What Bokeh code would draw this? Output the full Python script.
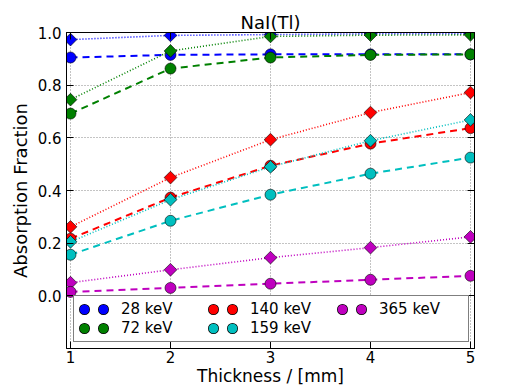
from math import pi
from bokeh.plotting import figure
from bokeh.models import (Range1d, FixedTicker, LinearAxis, Legend, LegendItem,
                          PrintfTickFormatter, CustomJSTickFormatter)
from bokeh.embed import file_html
from bokeh.resources import INLINE

thickness = [1, 2, 3, 4, 5]
energies = ["28 keV", "72 keV", "140 keV", "159 keV", "365 keV"]
colors = ["#0000ff", "#008000", "#ff0000", "#00bfbf", "#bf00bf"]

# dotted lines with diamond markers
frac_dotted_28 = [0.973, 0.989, 0.992, 0.995, 0.996]
frac_dotted_72 = [0.745, 0.930, 0.985, 0.990, 0.991]
frac_dotted_140 = [0.262, 0.449, 0.593, 0.696, 0.772]
frac_dotted_159 = [0.205, 0.365, 0.490, 0.589, 0.668]
frac_dotted_365 = [0.050, 0.099, 0.145, 0.183, 0.224]

# dashed lines with circle markers
frac_dashed_28 = [0.905, 0.915, 0.917, 0.917, 0.917]
frac_dashed_72 = [0.692, 0.863, 0.905, 0.915, 0.917]
frac_dashed_140 = [0.217, 0.373, 0.494, 0.578, 0.637]
frac_dashed_159 = [0.156, 0.285, 0.384, 0.464, 0.525]
frac_dashed_365 = [0.015, 0.030, 0.046, 0.061, 0.076]

dotted = [frac_dotted_28, frac_dotted_72, frac_dotted_140, frac_dotted_159, frac_dotted_365]
dashed = [frac_dashed_28, frac_dashed_72, frac_dashed_140, frac_dashed_159, frac_dashed_365]

y_ticks = [0.0, 0.2, 0.4, 0.6, 0.8, 1.0]
x_ticks = [1, 2, 3, 4, 5]

FONT = "DejaVu Sans"

p = figure(width=505, height=388, output_backend="svg", toolbar_location=None,
           x_range=Range1d(0.96, 5.04), y_range=Range1d(-0.2, 1.0),
           min_border_left=66, min_border_right=31, min_border_top=32,
           min_border_bottom=40)

p.title.text = "NaI(Tl)"
p.title.align = "center"
p.title.text_font = FONT
p.title.text_font_size = "18px"
p.title.text_font_style = "normal"
p.title.text_color = "black"
p.title.standoff = 0

p.outline_line_color = "black"
p.outline_line_width = 1
p.background_fill_color = "white"
p.border_fill_color = "white"

for ax in (p.xaxis[0], p.yaxis[0]):
    ax.major_label_text_font = FONT
    ax.major_label_text_font_size = "15px"
    ax.major_label_text_color = "black"
    ax.axis_label_text_font = FONT
    ax.axis_label_text_font_style = "normal"
    ax.axis_label_text_color = "black"
    ax.major_tick_in = 7
    ax.major_tick_out = 0
    ax.minor_tick_in = 0
    ax.minor_tick_out = 0
    ax.axis_line_color = "black"
    ax.major_tick_line_color = "black"

p.xaxis.axis_label_text_font_size = "17px"
p.yaxis.axis_label_text_font_size = "18px"
p.xaxis.ticker = FixedTicker(ticks=x_ticks)
p.yaxis.ticker = FixedTicker(ticks=y_ticks)
p.yaxis.formatter = PrintfTickFormatter(format="%.1f")
p.xaxis.axis_label = "Thickness / [mm]"
p.yaxis.axis_label = "Absorption Fraction"
p.xaxis.major_label_standoff = 2
p.xaxis.axis_label_standoff = 0
p.yaxis.major_label_standoff = 5
p.yaxis.axis_label_standoff = 4

blank = CustomJSTickFormatter(code="return ''")
for loc, ticks in (("right", y_ticks), ("above", x_ticks)):
    ax = LinearAxis(ticker=FixedTicker(ticks=ticks), formatter=blank,
                    major_tick_in=7, major_tick_out=0, minor_tick_in=0, minor_tick_out=0,
                    major_label_standoff=0, axis_line_color="black")
    p.add_layout(ax, loc)

p.xgrid.ticker = FixedTicker(ticks=x_ticks)
p.ygrid.ticker = FixedTicker(ticks=y_ticks)
for g in (p.xgrid[0], p.ygrid[0]):
    g.grid_line_color = "#888888"
    g.grid_line_dash = "1 2"
    g.grid_line_width = 1

for c, yd, ys in zip(colors, dotted, dashed):
    p.line(thickness, yd, line_color=c, line_width=1.6, line_dash="1 2")
    p.scatter(thickness, yd, marker="square", angle=pi / 4, size=9,
              fill_color=c, line_color="black", line_width=0.6)
    p.line(thickness, ys, line_color=c, line_width=2, line_dash="7 5")
    p.scatter(thickness, ys, marker="circle", size=11,
              fill_color=c, line_color="black", line_width=0.6)

nan = float("nan")
items = []
for name, c in zip(energies, colors):
    r_edge = p.line(x=[nan], y=[nan], line_color="black", line_width=11,
                    line_dash="0 19", line_dash_offset=-6, line_cap="round")
    r_fill = p.line(x=[nan], y=[nan], line_color=c, line_width=9.6,
                    line_dash="0 19", line_dash_offset=-6, line_cap="round")
    items.append(LegendItem(label=name, renderers=[r_edge, r_fill]))

legend = Legend(items=items, location=(7, 6), orientation="vertical", nrows=2,
                border_line_color="black", border_line_width=1,
                background_fill_color="white", background_fill_alpha=1,
                label_text_font=FONT, label_text_font_size="15px",
                label_text_color="black",
                glyph_width=36, glyph_height=14, label_height=14,
                label_standoff=7, label_width=85, spacing=1, padding=4, margin=0)
p.add_layout(legend, "center")

open("out.html", "w").write(file_html(p, INLINE))
